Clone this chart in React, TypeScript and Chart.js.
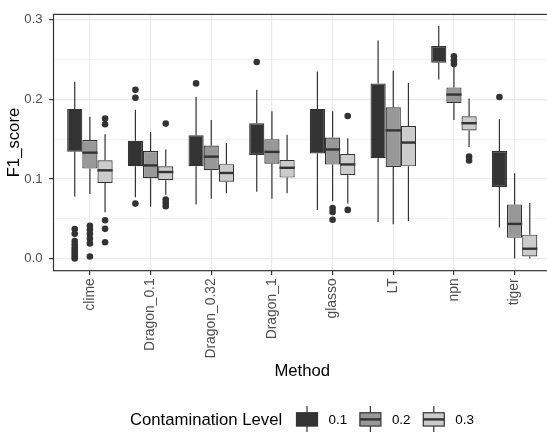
import React, { useEffect, useRef } from 'react';
import { Chart, registerables } from 'chart.js';

Chart.register(...registerables);

const methods = ['clime', 'Dragon_0.1', 'Dragon_0.32', 'Dragon_1', 'glasso', 'LT', 'npn', 'tiger'];
const levels = ['0.1', '0.2', '0.3'];
const fills = ['#333333', '#989898', '#CCCCCC'];
const yTicks = [0, 0.05, 0.1, 0.15, 0.2, 0.25, 0.3];
const xTitle = 'Method';
const yTitle = 'F1_score';
const legendTitle = 'Contamination Level';

// Contamination level 0.1
const whiskerLow01 = [0.078, 0.077, 0.068, 0.084, 0.061, 0.046, 0.225, 0.039];
const q1_01 = [0.134, 0.116, 0.116, 0.130, 0.132, 0.126, 0.246, 0.090];
const median01 = [0.160, 0.128, 0.135, 0.150, 0.160, 0.170, 0.257, 0.112];
const q3_01 = [0.188, 0.148, 0.155, 0.170, 0.188, 0.220, 0.267, 0.135];
const whiskerHigh01 = [0.222, 0.187, 0.203, 0.212, 0.235, 0.274, 0.292, 0.175];
const outliers01 = [
  [0.037, 0.031, 0.022, 0.018, 0.014, 0.011, 0.008, 0.005, 0.002, 0.0],
  [0.212, 0.202, 0.069],
  [0.220],
  [0.247],
  [],
  [],
  [],
  [0.203],
];

// Contamination level 0.2
const whiskerLow02 = [0.081, 0.065, 0.075, 0.075, 0.072, 0.043, 0.174, 0.0];
const q1_02 = [0.113, 0.101, 0.111, 0.119, 0.118, 0.115, 0.195, 0.026];
const median02 = [0.133, 0.117, 0.128, 0.134, 0.137, 0.161, 0.206, 0.0435];
const q3_02 = [0.149, 0.135, 0.142, 0.150, 0.152, 0.190, 0.215, 0.068];
const whiskerHigh02 = [0.178, 0.159, 0.174, 0.185, 0.185, 0.236, 0.243, 0.107];
const outliers02 = [
  [0.041, 0.036, 0.031, 0.025, 0.019, 0.0025],
  [],
  [],
  [],
  [0.0635, 0.0586, 0.0488],
  [],
  [0.254, 0.249, 0.2445],
  [],
];

// Contamination level 0.3
const whiskerLow03 = [0.058, 0.080, 0.082, 0.082, 0.069, 0.047, 0.140, 0.0];
const q1_03 = [0.095, 0.0985, 0.0964, 0.1017, 0.1047, 0.1158, 0.1608, 0.0025];
const median03 = [0.1108, 0.1087, 0.1075, 0.114, 0.1182, 0.1457, 0.170, 0.0123];
const q3_03 = [0.1235, 0.1158, 0.1186, 0.1239, 0.1313, 0.1666, 0.1786, 0.030];
const whiskerHigh03 = [0.156, 0.137, 0.1453, 0.1555, 0.151, 0.2204, 0.2011, 0.0697];
const outliers03 = [
  [0.176, 0.1687, 0.048, 0.0373, 0.0204],
  [0.1695, 0.074, 0.0697, 0.0656],
  [],
  [],
  [0.179, 0.0611],
  [],
  [0.128, 0.1232],
  [],
];

const whiskerLow = [whiskerLow01, whiskerLow02, whiskerLow03];
const q1s = [q1_01, q1_02, q1_03];
const medians = [median01, median02, median03];
const q3s = [q3_01, q3_02, q3_03];
const whiskerHigh = [whiskerHigh01, whiskerHigh02, whiskerHigh03];
const outliers = [outliers01, outliers02, outliers03];

const FONT = '"Liberation Sans", Arial, Helvetica, sans-serif';
const INK = '#333333';
const GRID = '#EBEBEB';

const boxPlugin = {
  id: 'boxStats',
  afterDatasetsDraw(chart: any) {
    const ctx = chart.ctx;
    const ys = chart.scales.y;
    ctx.save();
    ctx.strokeStyle = INK;
    ctx.lineCap = 'butt';
    for (let g = 0; g < levels.length; g++) {
      const meta = chart.getDatasetMeta(g);
      meta.data.forEach((bar: any, i: number) => {
        const { x, width } = bar.getProps(['x', 'width'], true);
        ctx.lineWidth = 1.2;
        ctx.beginPath();
        ctx.moveTo(x, ys.getPixelForValue(q3s[g][i]));
        ctx.lineTo(x, ys.getPixelForValue(whiskerHigh[g][i]));
        ctx.moveTo(x, ys.getPixelForValue(q1s[g][i]));
        ctx.lineTo(x, ys.getPixelForValue(whiskerLow[g][i]));
        ctx.stroke();
        if (fills[g] === INK) return; // median line is invisible on the darkest fill
        ctx.lineWidth = 2.4;
        const my = ys.getPixelForValue(medians[g][i]);
        ctx.beginPath();
        ctx.moveTo(x - width / 2, my);
        ctx.lineTo(x + width / 2, my);
        ctx.stroke();
      });
    }
    const a = chart.chartArea;
    ctx.lineWidth = 1.2;
    ctx.strokeRect(a.left, a.top, a.right - a.left, a.bottom - a.top);
    ctx.restore();
  },
};

const legendPlugin = {
  id: 'ggLegend',
  afterDraw(chart: any) {
    const ctx = chart.ctx;
    ctx.save();
    ctx.textBaseline = 'middle';
    ctx.textAlign = 'left';
    ctx.fillStyle = '#000000';
    ctx.font = `16.7px ${FONT}`;
    ctx.fillText(legendTitle, 130, 420.5);
    const cy = 419.4;
    for (let g = 0; g < levels.length; g++) {
      const cx = 307 + 63.4 * g;
      const bw = 21;
      const bh = 13.3;
      ctx.strokeStyle = INK;
      ctx.lineWidth = 1.2;
      ctx.beginPath();
      ctx.moveTo(cx, cy - 13.5);
      ctx.lineTo(cx, cy + 13.5);
      ctx.stroke();
      ctx.fillStyle = fills[g];
      ctx.fillRect(cx - bw / 2, cy - bh / 2, bw, bh);
      ctx.strokeRect(cx - bw / 2, cy - bh / 2, bw, bh);
      ctx.lineWidth = 2.4;
      ctx.beginPath();
      ctx.moveTo(cx - bw / 2, cy);
      ctx.lineTo(cx + bw / 2, cy);
      ctx.stroke();
      ctx.fillStyle = '#000000';
      ctx.font = `13.4px ${FONT}`;
      ctx.fillText(levels[g], cx + 21.5, cy + 1);
    }
    ctx.restore();
  },
};

export default function App() {
  const ref = useRef<HTMLCanvasElement | null>(null);

  useEffect(() => {
    if (!ref.current) return;
    const barSets = levels.map((lv, g) => ({
      type: 'bar' as const,
      label: lv,
      data: methods.map((_, i) => ({ x: i + 1, y: [q1s[g][i], q3s[g][i]] })),
      backgroundColor: fills[g],
      borderColor: INK,
      borderWidth: 1.2,
      borderSkipped: false,
      categoryPercentage: 0.75,
      barPercentage: 1.0,
    }));
    const pointSets = levels.map((lv, g) => ({
      type: 'scatter' as const,
      label: 'out ' + lv,
      data: outliers[g].flatMap((vals, i) => vals.map((v) => ({ x: i + 1 + (g - 1) * 0.25, y: v }))),
      pointRadius: 3.3,
      pointBackgroundColor: INK,
      pointBorderWidth: 0,
      showLine: false,
    }));

    const chart = new Chart(ref.current, {
      type: 'bar',
      data: { datasets: [...barSets, ...pointSets] as any },
      options: {
        animation: false,
        responsive: false,
        maintainAspectRatio: false,
        layout: { padding: { left: 0, right: 9, top: 9.3, bottom: 42 } },
        plugins: { legend: { display: false }, tooltip: { enabled: false } },
        scales: {
          x: {
            type: 'linear',
            min: 0.4,
            max: 8.6,
            offset: false,
            afterBuildTicks: (s: any) => {
              s.ticks = methods.map((_, i) => ({ value: i + 1 }));
            },
            afterFit: (s: any) => {
              s.height = 119.3;
            },
            grid: {
              offset: false,
              color: GRID,
              lineWidth: 1.2,
              tickLength: 4.3,
              tickColor: INK,
              tickWidth: 1.2,
            },
            border: { display: false },
            ticks: {
              autoSkip: false,
              minRotation: 90,
              maxRotation: 90,
              padding: 3.3,
              color: '#4D4D4D',
              font: { family: FONT, size: 13.9 },
              callback: (v: any) => methods[Math.round(v) - 1] ?? '',
            },
            title: {
              display: true,
              text: xTitle,
              color: '#000000',
              font: { family: FONT, size: 16.7 },
              padding: { top: 0, bottom: 8.5 },
            },
          },
          y: {
            type: 'linear',
            min: -0.0153,
            max: 0.3067,
            afterBuildTicks: (s: any) => {
              s.ticks = yTicks.map((v) => ({ value: v }));
            },
            afterFit: (s: any) => {
              s.width = 53.5;
            },
            grid: {
              color: GRID,
              lineWidth: (c: any) => (Math.abs(c.tick.value * 10 - Math.round(c.tick.value * 10)) < 1e-6 ? 1.2 : 0.6),
              tickLength: 4.3,
              tickColor: (c: any) =>
                Math.abs(c.tick.value * 10 - Math.round(c.tick.value * 10)) < 1e-6 ? INK : 'rgba(0,0,0,0)',
              tickWidth: 1.2,
            },
            border: { display: false },
            ticks: {
              padding: 6.5,
              color: '#4D4D4D',
              font: { family: FONT, size: 13.2 },
              callback: (v: any) =>
                Math.abs(v * 10 - Math.round(v * 10)) < 1e-6 ? Number(v).toFixed(1) : '',
            },
            title: {
              display: true,
              text: yTitle,
              color: '#000000',
              font: { family: FONT, size: 16.7 },
              padding: { top: 4, bottom: 0 },
            },
          },
        },
      },
      plugins: [boxPlugin, legendPlugin],
    } as any);
    return () => chart.destroy();
  }, []);

  return (
    <div
      style={{
        position: 'fixed',
        left: 0,
        top: 0,
        width: 547,
        height: 432,
        overflow: 'hidden',
        background: '#ffffff',
      }}
    >
      <canvas ref={ref} width={560} height={432} style={{ width: 560, height: 432, display: 'block' }} />
    </div>
  );
}
